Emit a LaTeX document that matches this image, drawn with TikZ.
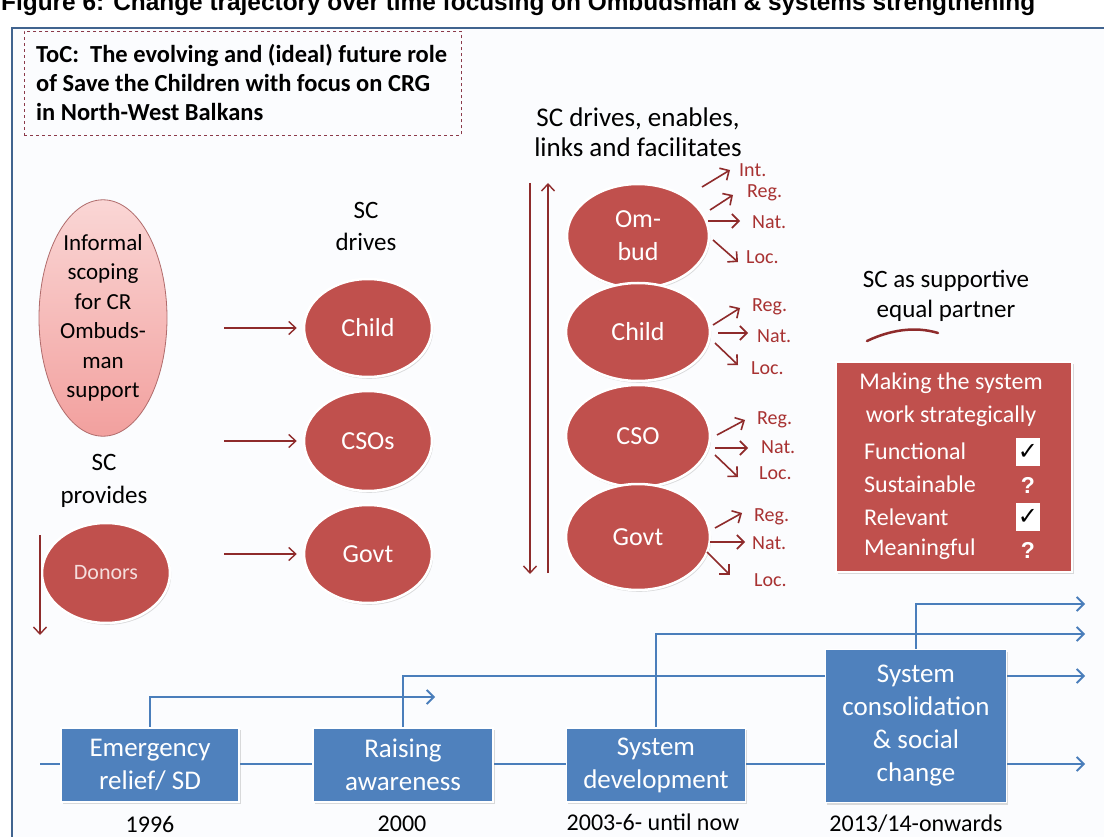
\documentclass[tikz,border=0pt]{standalone}
\usepackage{fontspec}
\setmainfont{Carlito}
\newfontfamily\titlefont{Liberation Sans}
\newfontfamily\symfont{DejaVu Sans}
\usetikzlibrary{arrows.meta,shapes.geometric,shadows,calc}
\pgfdeclarelayer{back}
\pgfdeclarelayer{bg}
\pgfsetlayers{back,bg,main}
\definecolor{frameblue}{HTML}{41648F}
\definecolor{ellred}{HTML}{C0504D}
\definecolor{darkred}{HTML}{8E2B2B}
\definecolor{labred}{HTML}{A83232}
\definecolor{dashred}{HTML}{8B3A4A}
\definecolor{boxblue}{HTML}{4F81BD}
\definecolor{lineblue}{HTML}{4A7EBB}
\definecolor{pinktop}{HTML}{FAD6D5}
\definecolor{pinkbot}{HTML}{F2A09E}
\definecolor{donortext}{HTML}{F5DEDD}
\definecolor{paper}{HTML}{FBFCFE}
\tikzset{
  redell/.style={ellipse, fill=ellred, draw=white, line width=2.5pt, inner sep=0pt,
    align=center, text=white, font=\fontsize{26}{33}\selectfont,
    drop shadow={opacity=0.28, shadow xshift=1.2pt, shadow yshift=-1.8pt}},
  rarr/.style={draw=darkred, line width=1.4pt, -{Straight Barb[length=7pt,width=13pt]}},
  larr/.style={draw=darkred, line width=1.6pt, -{Straight Barb[length=7pt,width=14pt]}},
  barr/.style={draw=lineblue, line width=1.8pt, -{Straight Barb[length=7pt,width=14pt]}},
  bluebox/.style={rectangle, fill=boxblue, draw=white, line width=1.5pt, text=white,
    align=center, inner sep=0pt, font=\fontsize{27}{33}\selectfont,
    drop shadow={opacity=0.28, shadow xshift=1.5pt, shadow yshift=-2pt}},
  lab/.style={text=labred, font=\fontsize{20}{24}\selectfont, inner sep=0pt, anchor=west},
  blk/.style={align=center, text=black, inner sep=0pt},
  rtext/.style={text=white, inner sep=0pt, font=\fontsize{24}{33}\selectfont},
  chk/.style={fill=white, minimum width=24pt, minimum height=28pt, inner sep=0pt,
    font=\symfont\fontsize{24}{24}\selectfont},
  qmark/.style={text=white, inner sep=0pt, font=\titlefont\bfseries\fontsize{23}{23}\selectfont},
  year/.style={text=black, inner sep=0pt, font=\fontsize{24}{28}\selectfont}
}
\begin{document}
\begin{tikzpicture}[x=1pt,y=-1pt]
\useasboundingbox (0,0) rectangle (1104,837);
\begin{pgfonlayer}{back}
\fill[white] (0,0) rectangle (1104,837);
\fill[paper] (12,28) rectangle (1104,837);
\end{pgfonlayer}
% title
\node[anchor=base west, inner sep=0pt, font=\titlefont\bfseries\fontsize{24.4}{28}\selectfont] (title) at (1,11)
  {Figure 6: Change trajectory over time focusing on Ombudsman \& systems strengthening};
% frame
\draw[frameblue, line width=2.5pt] (12,837) -- (12,28) -- (1104,28);
% ToC box
\node[draw=dashred, dashed, line width=0.8pt, minimum width=437pt, minimum height=104pt, inner sep=0pt, anchor=north west] (toc) at (24,31) {};
\node[anchor=west, align=left, inner sep=0pt, font=\bfseries\fontsize{24.5}{29}\selectfont] (toct) at ($(toc.west)+(12,-1)$)
  {ToC:\ \ The evolving and (ideal) future role\\of Save the Children with focus on CRG\\in North-West Balkans};

% column 1
\node[ellipse, top color=pinktop, bottom color=pinkbot, draw=darkred!70, line width=0.8pt,
  minimum width=128pt, minimum height=196pt, inner sep=0pt, align=center,
  font=\fontsize{23}{29.5}\selectfont] (inf) at (103,318)
  {Informal\\scoping\\for CR\\Ombuds-\\man\\support};
\node[blk, font=\fontsize{25}{33}\selectfont] (prov) at (104,481) {SC\\provides};
\node[redell, minimum width=128pt, minimum height=100pt, text=donortext, font=\fontsize{22}{26}\selectfont] (don) at (106,573) {Donors};
\coordinate (d0) at (40,535);
\coordinate (d1) at (40,635);
\draw[rarr] (d0) -- (d1);

% column 2
\node[blk, font=\fontsize{25}{32}\selectfont] (drv) at (366,226) {SC\\drives};
\node[redell, minimum width=128pt, minimum height=98pt] (ch2) at (368,328) {Child};
\node[redell, minimum width=128pt, minimum height=100pt] (cso2) at (368,441) {CSOs};
\node[redell, minimum width=128pt, minimum height=98pt] (gov2) at (368,554) {Govt};
\coordinate (a1) at (224,328);
\coordinate (a2) at (224,441);
\coordinate (a3) at (224,554);
\draw[rarr, shorten >=6pt] (a1) -- (ch2.west);
\draw[rarr, shorten >=6pt] (a2) -- (cso2.west);
\draw[rarr, shorten >=6pt] (a3) -- (gov2.west);

% column 3
\node[blk, font=\fontsize{27}{30}\selectfont] (sce) at (638,132) {SC drives, enables,\\links and facilitates};
\node[redell, minimum width=142pt, minimum height=104pt] (omb) at (638,236) {Om-\\bud};
\node[redell, minimum width=144pt, minimum height=98pt] (ch3) at (638,332) {Child};
\node[redell, minimum width=144pt, minimum height=102pt] (cso3) at (638,436) {CSO};
\node[redell, minimum width=144pt, minimum height=106pt] (gov3) at (638,537) {Govt};
\coordinate (v1a) at (530,183);
\coordinate (v1b) at (530,574);
\coordinate (v2a) at (548,573);
\coordinate (v2b) at (548,183);
\draw[rarr] (v1a) -- (v1b);
\draw[rarr] (v2a) -- (v2b);

% labels column 3
\node[lab] (oi) at (739,170) {Int.};
\node[lab] (or) at (747,193) {Reg.};
\node[lab] (on) at (752,222) {Nat.};
\node[lab] (ol) at (746,257) {Loc.};
\draw[larr] ($(omb.center)+(64,-49)$) -- ++(28,-17);
\draw[larr] ($(omb.center)+(72,-26)$) -- ++(23,-15);
\draw[larr] ($(omb.center)+(70,-15)$) -- ++(32,0);
\draw[larr] ($(omb.center)+(75,4)$) -- ++(25,22);

\node[lab] (cr) at (752,307) {Reg.};
\node[lab] (cn) at (757,336) {Nat.};
\node[lab] (cl) at (751,368) {Loc.};
\draw[larr] ($(ch3.center)+(75,-7)$) -- ++(27,-17);
\draw[larr] ($(ch3.center)+(80,1)$) -- ++(30,0);
\draw[larr] ($(ch3.center)+(77,11)$) -- ++(23,22);

\node[lab] (sr) at (757,420) {Reg.};
\node[lab] (sn) at (761,447) {Nat.};
\node[lab] (sl) at (759,473) {Loc.};
\draw[larr] ($(cso3.center)+(79,-1)$) -- ++(28,-15);
\draw[larr] ($(cso3.center)+(77,12)$) -- ++(33,0);
\draw[larr] ($(cso3.center)+(77,19)$) -- ++(23,22);

\node[lab] (gr) at (754,517) {Reg.};
\node[lab] (gn) at (752,543) {Nat.};
\node[lab] (gl) at (754,580) {Loc.};
\draw[larr] ($(gov3.center)+(77,-9)$) -- ++(27,-15);
\draw[larr] ($(gov3.center)+(72,5)$) -- ++(35,0);
\draw[larr] ($(gov3.center)+(69,15)$) -- ++(23,23);

% right side
\node[blk, font=\fontsize{25}{30}\selectfont] (sup) at (946,296) {SC as supportive\\equal partner};
\draw[darkred, line width=2.5pt, line cap=round] (867,341) .. controls (890,330) and (915,326) .. (938,333);
\node[rectangle, fill=ellred, draw=white, line width=1.5pt, minimum width=236pt, minimum height=210pt, inner sep=0pt,
  drop shadow={opacity=0.28, shadow xshift=1.5pt, shadow yshift=-2pt}] (msys) at (954,467) {};
\node[rtext, align=center] (mt) at (951,400) {Making the system\\work strategically};
\node[rtext, anchor=west] (r1) at (864,451) {Functional};
\node[rtext, anchor=west] (r2) at (864,484) {Sustainable};
\node[rtext, anchor=west] (r3) at (864,517) {Relevant};
\node[rtext, anchor=west] (r4) at (864,549) {Meaningful};
\node[chk] (k1) at (1028,452) {✓};
\node[qmark] (q1) at (1028,485) {?};
\node[chk] (k2) at (1028,517) {✓};
\node[qmark] (q2) at (1028,550) {?};

% timeline
\node[bluebox, minimum width=178pt, minimum height=74pt] (b1) at (150,765) {Emergency\\relief/ SD};
\node[bluebox, minimum width=180pt, minimum height=74pt] (b2) at (403,765) {Raising\\awareness};
\node[bluebox, minimum width=179pt, minimum height=74pt] (b3) at (656,765) {System\\development};
\node[bluebox, minimum width=181pt, minimum height=153pt] (b4) at (916,726) {System\\consolidation\\\& social\\change};
\coordinate (m0) at (40,764);
\coordinate (m1) at (1085,764);
\coordinate (e1) at (435,697);
\coordinate (e2) at (1085,676);
\coordinate (e3) at (1085,634);
\coordinate (e4) at (1085,604);
\begin{pgfonlayer}{bg}
\draw[barr] (m0) -- (m1);
\draw[barr] (b1.north) |- (e1);
\draw[barr] (b2.north) |- (e2);
\draw[barr] (b3.north) |- (e3);
\draw[barr] (b4.north) |- (e4);
\end{pgfonlayer}
\node[year] (y1) at (150,824) {1996};
\node[year] (y2) at (402,824) {2000};
\node[year] (y3) at (653,822) {2003-6- until now};
\node[year] (y4) at (916,824) {2013/14-onwards};
\end{tikzpicture}
\end{document}
